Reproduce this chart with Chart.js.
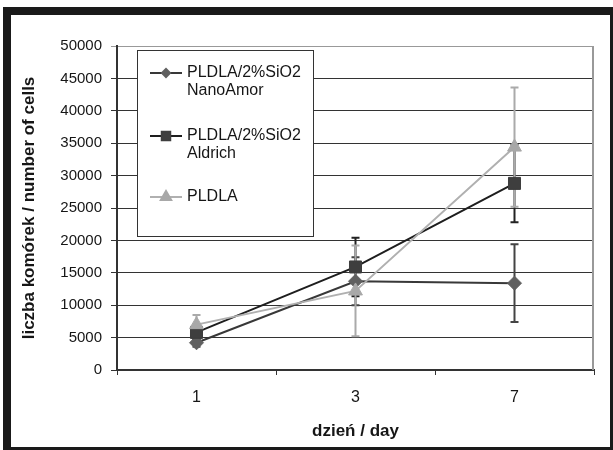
<!DOCTYPE html>
<html>
<head>
<meta charset="utf-8">
<script src="https://cdn.jsdelivr.net/npm/chart.js@4.4.1/dist/chart.umd.min.js"></script>
<style>
  html, body { margin: 0; padding: 0; background: #fff; }
  #frame {
    position: absolute; left: 3px; top: 7px;
    border-left: 8px solid #1a1a1a; border-top: 8px solid #1a1a1a;
    border-right: 3px solid #1a1a1a; border-bottom: 3px solid #1a1a1a;
  }
  canvas { display: block; }
</style>
</head>
<body>
<div id="frame"><canvas id="cellsChart" width="599" height="432"></canvas></div>
<script>
// days on x axis
const days = ['1', '3', '7'];
const seriesNames = [['PLDLA/2%SiO2', 'NanoAmor'], ['PLDLA/2%SiO2', 'Aldrich'], ['PLDLA']];

// mean cell counts and error (+/-)
const nanoAmor = [4200, 13700, 13400];
const nanoAmorErr = [600, 3700, 6000];
const aldrich = [5800, 15900, 28800];
const aldrichErr = [1000, 4500, 6000];
const pldla = [7000, 12200, 34400];
const pldlaErr = [1500, 7000, 9200];

const yTicks = [0, 5000, 10000, 15000, 20000, 25000, 30000, 35000, 40000, 45000, 50000];

const FONT = "'Liberation Sans', Arial, sans-serif";
const TEXT = '#161616';

// error bars, drawn under the markers
const errorBars = {
    id: 'errorBars',
    beforeDatasetsDraw(chart) {
        const ctx = chart.ctx;
        const y = chart.scales.y;
        chart.data.datasets.forEach((ds, i) => {
            const meta = chart.getDatasetMeta(i);
            ctx.save();
            ctx.strokeStyle = ds.errorColor;
            ctx.lineWidth = 2;
            meta.data.forEach((pt, j) => {
                const top = y.getPixelForValue(ds.data[j] + ds.errors[j]);
                const bot = y.getPixelForValue(ds.data[j] - ds.errors[j]);
                ctx.beginPath();
                ctx.moveTo(pt.x, top); ctx.lineTo(pt.x, bot);
                ctx.moveTo(pt.x - 4, top); ctx.lineTo(pt.x + 4, top);
                ctx.moveTo(pt.x - 4, bot); ctx.lineTo(pt.x + 4, bot);
                ctx.stroke();
            });
            ctx.restore();
        });
    }
};

// right edge of plot + boxed legend inside the plot
const boxLegend = {
    id: 'boxLegend',
    afterDatasetsDraw(chart) {
        const ctx = chart.ctx, area = chart.chartArea;
        ctx.save();
        ctx.strokeStyle = '#999';
        ctx.lineWidth = 2;
        ctx.beginPath();
        ctx.moveTo(area.right - 1, area.top);
        ctx.lineTo(area.right - 1, area.bottom);
        ctx.stroke();

        const x0 = Math.round(area.left + 20), y0 = Math.round(area.top + 4);
        const w = 176, h = 186;
        ctx.fillStyle = '#fff';
        ctx.fillRect(x0, y0, w, h);
        ctx.strokeStyle = '#333';
        ctx.lineWidth = 1;
        ctx.strokeRect(x0 + 0.5, y0 + 0.5, w, h);

        const rowY = [23, 86, 147];
        ctx.font = '16px ' + FONT;
        ctx.textBaseline = 'middle';
        chart.data.datasets.forEach((ds, i) => {
            const cy = y0 + rowY[i];
            ctx.strokeStyle = ds.borderColor;
            ctx.lineWidth = 2;
            ctx.beginPath();
            ctx.moveTo(x0 + 13, cy);
            ctx.lineTo(x0 + 45, cy);
            ctx.stroke();
            ctx.fillStyle = ds.pointBackgroundColor;
            ctx.strokeStyle = ds.pointBackgroundColor;
            Chart.helpers.drawPoint(ctx, {pointStyle: ds.pointStyle, rotation: 0, radius: ds.legendRadius, borderWidth: 1}, x0 + 29, cy);
            ctx.fillStyle = TEXT;
            seriesNames[i].forEach((t, k) => ctx.fillText(t, x0 + 50, cy + k * 18));
        });
        ctx.restore();
    }
};

new Chart(document.getElementById('cellsChart'), {
    type: 'line',
    data: {
        labels: days,
        datasets: [{
            label: seriesNames[0].join(' '),
            data: nanoAmor,
            errors: nanoAmorErr,
            errorColor: '#444',
            borderColor: '#383838',
            pointBackgroundColor: '#606060',
            pointBorderColor: '#606060',
            pointStyle: 'rectRot',
            pointRadius: 7,
            legendRadius: 4,
            order: 2
        }, {
            label: seriesNames[1].join(' '),
            data: aldrich,
            errors: aldrichErr,
            errorColor: '#222',
            borderColor: '#1e1e1e',
            pointBackgroundColor: '#3e3e3e',
            pointBorderColor: '#3e3e3e',
            pointStyle: 'rect',
            pointRadius: 8.5,
            legendRadius: 6,
            order: 1
        }, {
            label: seriesNames[2].join(' '),
            data: pldla,
            errors: pldlaErr,
            errorColor: '#aaa',
            borderColor: '#b0b0b0',
            pointBackgroundColor: '#a8a8a8',
            pointBorderColor: '#a8a8a8',
            pointStyle: 'triangle',
            pointRadius: 8,
            legendRadius: 6,
            order: 0
        }]
    },
    options: {
        responsive: false,
        animation: false,
        devicePixelRatio: 1,
        layout: { padding: { top: 31, right: 16, left: 0, bottom: 0 } },
        elements: {
            line: { borderWidth: 2, tension: 0 },
            point: { borderWidth: 1 }
        },
        plugins: {
            legend: { display: false },
            tooltip: { enabled: false }
        },
        scales: {
            x: {
                offset: true,
                grid: { offset: true, drawOnChartArea: false, drawTicks: true, tickLength: 5, color: '#333' },
                border: { color: '#333', width: 2 },
                ticks: { padding: 13, color: TEXT, font: { family: FONT, size: 16 } },
                title: {
                    display: true, text: 'dzień / day', color: TEXT,
                    font: { family: FONT, size: 17, weight: 'bold' },
                    padding: { top: 0, bottom: 5 }
                },
                afterFit(scale) { scale.height = 77; }
            },
            y: {
                min: 0,
                max: 50000,
                afterBuildTicks(scale) { scale.ticks = yTicks.map(v => ({ value: v })); },
                grid: {
                    color: c => (c.tick && c.tick.value === 50000) ? '#999' : '#333',
                    tickLength: 6
                },
                border: { color: '#333', width: 2 },
                ticks: {
                    padding: 9, color: TEXT, font: { family: FONT, size: 15 },
                    callback: v => String(v)
                },
                title: {
                    display: true, text: 'liczba komórek / number of cells', color: TEXT,
                    font: { family: FONT, size: 17, weight: 'bold' },
                    padding: { top: 8, bottom: 0 }
                },
                afterFit(scale) { scale.width = 106; }
            }
        }
    },
    plugins: [errorBars, boxLegend]
});
</script>
</body>
</html>
